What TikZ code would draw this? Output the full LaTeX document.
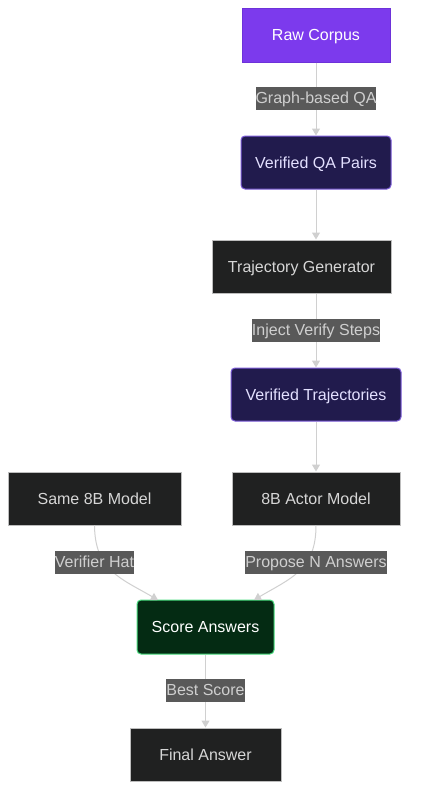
\documentclass[tikz,border=0pt]{standalone}
\usepackage{fontspec}
\setmainfont{Liberation Sans}
\usetikzlibrary{arrows.meta}
\definecolor{violetfill}{HTML}{7C3AED}
\definecolor{violetdraw}{HTML}{6D32D9}
\definecolor{indigofill}{HTML}{211B4D}
\definecolor{indigodraw}{HTML}{7C5CD8}
\definecolor{darkfill}{HTML}{202121}
\definecolor{darkdraw}{HTML}{BDBDBD}
\definecolor{greenfill}{HTML}{042B13}
\definecolor{greendraw}{HTML}{4ADE80}
\definecolor{labelfill}{HTML}{595959}
\definecolor{labeltext}{HTML}{CFCFCF}
\definecolor{edgecol}{HTML}{D0D0D0}
\definecolor{boxtext}{HTML}{D6D6D6}
\definecolor{indigotext}{HTML}{E3E0FF}
\tikzset{
  base/.style={font=\fontsize{16}{19}\selectfont, inner sep=0pt, line width=1pt, align=center, text height=14pt, text depth=2.8pt},
  rawbox/.style={base, fill=violetfill, draw=violetdraw, text=white},
  verbox/.style={base, fill=indigofill, draw=indigodraw, text=indigotext, rounded corners=4pt},
  darkbox/.style={base, fill=darkfill, draw=darkdraw, text=boxtext},
  greenbox/.style={base, fill=greenfill, draw=greendraw, text=white, rounded corners=4pt},
  elabel/.style={font=\fontsize{16}{19}\selectfont, fill=labelfill, text=labeltext, inner xsep=0pt, inner ysep=0pt, minimum height=23pt, text height=13.5pt, text depth=3pt},
  edge/.style={draw=edgecol, line width=1pt, -{Triangle[length=7pt,width=8pt]}}
}
\begin{document}
\begin{tikzpicture}[x=1pt,y=-1pt]
\useasboundingbox[fill=white] (0,0) rectangle (428,790);
\node[rawbox, minimum width=148pt, minimum height=54pt] (raw) at (316,35) {Raw Corpus};
\node[verbox, minimum width=150pt, minimum height=53pt] (vqa) at (316,162.5) {Verified QA Pairs};
\node[darkbox, minimum width=179pt, minimum height=53pt] (tg) at (301.5,266.5) {Trajectory Generator};
\node[verbox, minimum width=170pt, minimum height=53pt] (vt) at (316,394.5) {Verified Trajectories};
\node[darkbox, minimum width=173pt, minimum height=53pt] (s8) at (94.5,498.5) {Same 8B Model};
\node[darkbox, minimum width=168pt, minimum height=53pt] (actor) at (316,498.5) {8B Actor Model};
\node[greenbox, minimum width=137pt, minimum height=54pt] (score) at (205.5,627) {Score Answers};
\node[darkbox, minimum width=151pt, minimum height=53pt] (final) at (205.5,754.5) {Final Answer};

\coordinate (sIn) at (158,600);
\coordinate (aIn) at (254,600);

\draw[edge] (raw.south) -- (vqa.north);
\draw[edge] (vqa.south) -- (vqa.south |- tg.north);
\draw[edge] (vqa.south |- tg.south) -- (vt.north);
\draw[edge] (vt.south) -- (actor.north);
\draw[edge] (s8.south) .. controls (95,570) and (120,578) .. (sIn);
\draw[edge] (actor.south) .. controls (316,570) and (291,578) .. (aIn);
\draw[edge] (score.south) -- (final.north);

\node[elabel] (l1) at (316,98.5) {Graph-based QA};
\node[elabel] (l2) at (316,330) {Inject Verify Steps};
\node[elabel] (l3) at (94.5,562.5) {Verifier Hat};
\node[elabel] (l4) at (316,562.5) {Propose N Answers};
\node[elabel] (l5) at (205.5,690.5) {Best Score};
\end{tikzpicture}
\end{document}
